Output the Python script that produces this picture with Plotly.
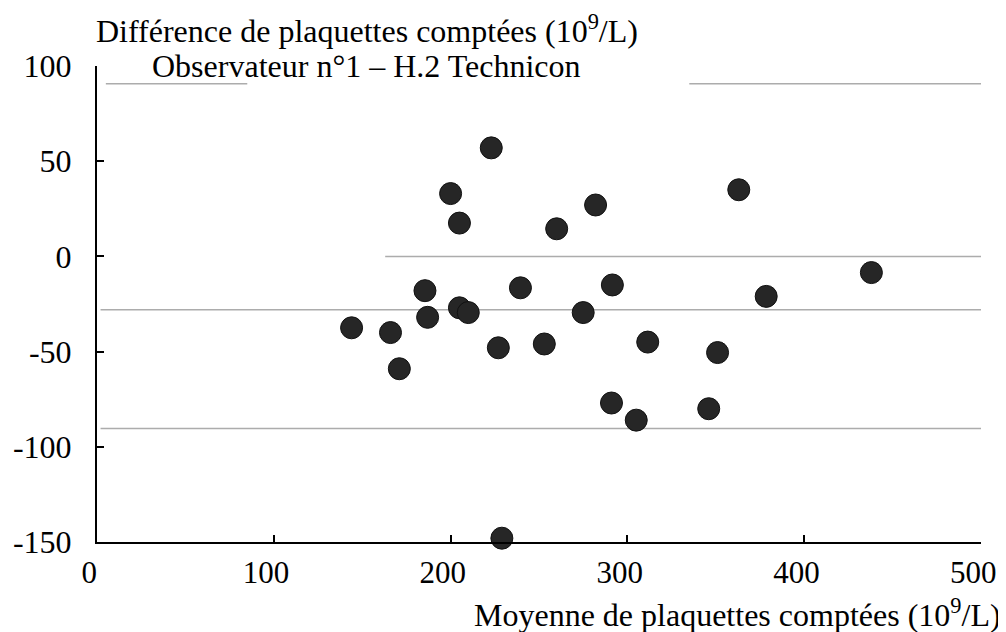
import plotly.graph_objects as go

# mean platelet count (x) and difference (y), 10^9/L
moyenne = [144, 166, 171, 185.5, 187, 200, 205, 205, 210, 223, 227, 229, 239.5,
           253, 260, 275, 282, 291.5, 291, 305, 311.5, 346, 351, 363, 378.5, 438]
difference = [-37.5, -40, -59, -18, -32, 33, 17.5, -27, -29.5, 57, -48, -148, -16.5,
              -46, 14.5, -29.5, 27, -15, -77, -86, -45, -80, -50.5, 35, -21, -8.5]

# reference lines (value, segments of x)
ligne_sup = 90.7
ligne_sup_x = [[5, 85], [335, 500]]
ligne_zero = 0
ligne_zero_x = [[163, 500]]
ligne_moy = -28
ligne_moy_x = [[2, 500]]
ligne_inf = -90.4
ligne_inf_x = [[2, 500]]

x_ticks = [0, 100, 200, 300, 400, 500]
x_labels = ["0", "100", "200", "300", "400", "500"]
y_ticks = [100, 50, 0, -50, -100, -150]
y_labels = ["100", "50", "0", "-50", "-100", "-150"]

FONT = "Liberation Serif"
fig = go.Figure()

for val, segs in [(ligne_sup, ligne_sup_x), (ligne_zero, ligne_zero_x),
                  (ligne_moy, ligne_moy_x), (ligne_inf, ligne_inf_x)]:
    for seg in segs:
        fig.add_trace(go.Scatter(
            x=seg, y=[val, val], mode="lines",
            line=dict(color="#acacac", width=1.5),
            hoverinfo="skip", showlegend=False))

fig.add_trace(go.Scatter(
    x=moyenne, y=difference, mode="markers",
    marker=dict(size=22, color="#262626", line=dict(color="#111111", width=1)),
    cliponaxis=False, showlegend=False))

# page body adds an 8px offset, so the figure is a bit smaller than the window
fig.update_layout(
    width=998, height=624,
    plot_bgcolor="white", paper_bgcolor="white",
    margin=dict(l=89, r=25, t=58, b=90),
    font=dict(family=FONT, size=32, color="black"),
    xaxis=dict(
        range=[0, 500], tickvals=x_ticks,
        # trailing nbsp nudges labels slightly left, as in the original
        ticktext=[t + "\u00a0\u00a0" for t in x_labels],
        ticklabeloverflow="allow",
        showgrid=False, zeroline=False,
        showline=True, linecolor="black", linewidth=2, automargin=False,
        ticks="inside", ticklen=7, tickwidth=2, tickcolor="black",
        tickfont=dict(size=31), ticklabelstandoff=2),
    yaxis=dict(
        range=[-150, 100], tickvals=y_ticks, ticktext=y_labels,
        showgrid=False, zeroline=False, automargin=False,
        showline=True, linecolor="black", linewidth=2,
        ticks="inside", ticklen=7, tickwidth=2, tickcolor="black",
        ticklabelstandoff=17),
    annotations=[
        dict(text="Différence de plaquettes comptées (10<sup>9</sup>/L)",
             xref="paper", yref="paper", x=0.305, y=1.077,
             xanchor="center", yanchor="middle", showarrow=False),
        dict(text="Observateur n°1 – H.2 Technicon",
             xref="paper", yref="paper", x=0.305, y=1.0,
             xanchor="center", yanchor="middle", showarrow=False),
        dict(text="Moyenne de plaquettes comptées (10<sup>9</sup>/L)",
             xref="paper", yref="paper", x=1.025, y=-0.149,
             xanchor="right", yanchor="middle", showarrow=False),
    ],
)

fig.write_html("out.html")
